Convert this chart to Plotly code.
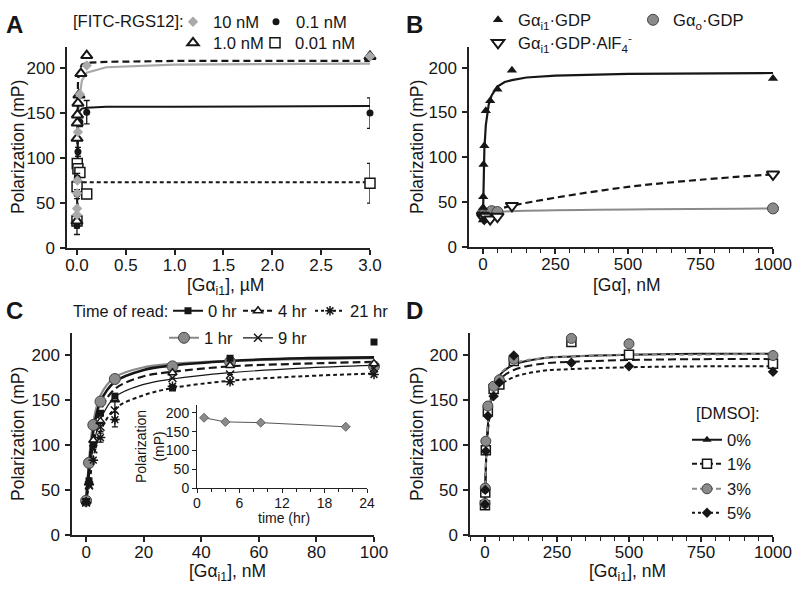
import plotly.graph_objects as go

W, H = 800, 591
FONT = "Liberation Sans, Arial, sans-serif"
INK = "#161616"

# ---------------- Panel A : [Gai1] in uM ----------------
a10_x = [0, 0.001, 0.002, 0.005, 0.01, 0.03, 0.1, 3.0]
a10_y = [37, 44, 61, 75, 129, 171, 203, 213]
a1_x = [0, 0.001, 0.003, 0.005, 0.01, 0.02, 0.04, 0.1, 3.0]
a1_y = [30, 122, 139, 148, 161, 170, 194, 214, 213]
a01_x = [0, 0.001, 0.003, 0.01, 0.03, 0.1, 3.0]
a01_y = [25, 60, 78, 107, 140, 151, 150]
a01_err = [10, 5, 5, 5, 5, 13, 17]
a001_x = [0, 0.001, 0.003, 0.01, 0.03, 0.1, 3.0]
a001_y = [30, 68, 94, 88, 84, 60, 72]
a001_err = [8, 5, 5, 5, 5, 5, 22]

afit_x = [0, 0.002, 0.005, 0.01, 0.02, 0.05, 0.1, 0.3, 1.0, 3.0]
afit_10 = [35, 70, 105, 135, 162, 186, 195, 201, 204, 205]
afit_1 = [30, 110, 160, 183, 196, 204, 206, 207, 208, 208]
afit_01 = [25, 100, 130, 145, 151, 155, 156, 157, 157, 158]
afit_001 = [30, 55, 66, 70, 72, 73, 73, 73, 73, 73]

# ---------------- Panel B : [Ga] in nM ----------------
bi_x = [0, 0.5, 1, 2, 5, 10, 25, 50, 100, 1000]
bi_y = [30, 44, 56, 92, 113, 152, 163, 176, 197, 188]
balf_x = [0, 1, 5, 10, 25, 50, 100, 1000]
balf_y = [35, 33, 32, 34, 31, 34, 46, 81]
bo_x = [0, 1, 5, 10, 30, 50, 1000]
bo_y = [38, 36, 37, 35, 40, 39, 43]

bfit_x = [0, 2, 5, 10, 15, 20, 30, 50, 75, 100, 150, 250, 500, 1000]
bfit_i = [30, 74, 109, 136, 151, 159, 169, 179, 184, 186, 189, 191, 193, 194]
bfit2_x = [0, 50, 100, 250, 500, 750, 1000]
bfit_alf = [37, 42, 46, 55, 67, 75, 81]
bfit3_x = [0, 100, 1000]
bfit_o = [38, 40, 43]

# ---------------- Panel C : time of read ----------------
c_x = [0, 1, 2.5, 5, 10, 30, 50, 100]
c_0hr = [37, 60, 100, 135, 154, 163, 196, 214]
c_1hr = [38, 80, 122, 148, 173, 187, 192, 187]
c_4hr = [37, 58, 105, 126, 150, 180, 188, 190]
c_9hr = [36, 55, 95, 120, 138, 174, 178, 185]
c_9hr_err = [0, 0, 0, 5, 11, 0, 0, 0]
c_21hr = [36, 56, 83, 108, 128, 165, 170, 178]
c_21hr_err = [0, 0, 0, 5, 8, 0, 0, 0]

cfit_x = [0, 1, 2.5, 5, 10, 20, 30, 50, 75, 100]
cfit_0hr = [37, 75, 115, 148, 170, 183, 188, 193, 196, 197]
cfit_1hr = [37, 82, 125, 155, 175, 186, 190, 193, 195, 196]
cfit_4hr = [37, 68, 105, 138, 162, 176, 181, 187, 190, 192]
cfit_9hr = [37, 63, 98, 128, 153, 167, 173, 180, 185, 188]
cfit_21hr = [37, 55, 85, 115, 140, 155, 163, 171, 176, 179]

inset_t = [1, 4, 9, 21]
inset_pol = [187, 176, 174, 163]
inset_err = [0, 6, 0, 0]

# ---------------- Panel D : DMSO ----------------
d_x = [0, 1, 3, 10, 30, 50, 100, 300, 500, 1000]
d_0 = [34, 50, 95, 135, 163, 170, 197, 215, 201, 198]
d_1 = [33, 47, 94, 137, 162, 167, 193, 214, 200, 190]
d_3 = [35, 52, 104, 143, 165, 172, 195, 218, 212, 199]
d_5 = [34, 50, 93, 132, 154, 169, 199, 191, 187, 181]

dfit_x = [0, 2, 5, 10, 20, 30, 50, 100, 200, 300, 500, 750, 1000]
dfit_0 = [33, 64, 94, 122, 150, 164, 177, 189, 196, 198, 200, 201, 201]
dfit_1 = [33, 63, 92, 119, 146, 159, 172, 183, 190, 192, 194, 195, 195]
dfit_3 = [35, 67, 97, 125, 152, 165, 178, 190, 196, 198, 200, 200, 201]
dfit_5 = [33, 61, 88, 114, 140, 152, 165, 175, 182, 184, 186, 187, 187]

y_ticks = [0, 50, 100, 150, 200]


def PX(x):
    return x / W


def PY(y):
    return 1 - y / H


fig = go.Figure()
GRAY_L = "#a9a9a9"
GRAY_M = "#8a8a8a"


def line(x, y, ax, color=INK, width=2, dash="solid", shape="linear"):
    fig.add_trace(go.Scatter(x=x, y=y, mode="lines", xaxis="x" + ax, yaxis="y" + ax,
                             line=dict(color=color, width=width, dash=dash, shape=shape,
                                       smoothing=1.0), showlegend=False, hoverinfo="skip"))


def pts(x, y, ax, marker, name=None, legend=None, err=None):
    fig.add_trace(go.Scatter(
        x=x, y=y, mode="markers", xaxis="x" + ax, yaxis="y" + ax, marker=marker,
        cliponaxis=False, name=name, legend=legend, showlegend=legend is not None,
        error_y=(dict(type="data", array=err, color=INK, thickness=1.3, width=3)
                 if err is not None else None)))


def legend_only(ax, name, legend, marker, ln):
    fig.add_trace(go.Scatter(x=[None], y=[None], mode="lines+markers", xaxis="x" + ax,
                             yaxis="y" + ax, marker=marker, line=ln, name=name,
                             legend=legend, showlegend=True))


# ---- A
line(afit_x, afit_10, "", GRAY_L, 2.2)
line(afit_x, afit_1, "", INK, 2.2, "7px,4px")
line(afit_x, afit_01, "", INK, 2)
line(afit_x, afit_001, "", INK, 2, "4px,3px")
m_a10 = dict(symbol="diamond", size=8, color=GRAY_L, line=dict(width=0))
m_a1 = dict(symbol="triangle-up", size=10, color="white", line=dict(color=INK, width=2))
m_a01 = dict(symbol="circle", size=7, color=INK, line=dict(width=0))
m_a001 = dict(symbol="square", size=10, color="white", line=dict(color=INK, width=1.5))
pts(a001_x, a001_y, "", m_a001, "0.01 nM", "legend4", a001_err)
pts(a01_x, a01_y, "", m_a01, "0.1 nM", "legend2", a01_err)
pts(a1_x, a1_y, "", m_a1, "1.0 nM", "legend3")
pts(a10_x, a10_y, "", m_a10, "10 nM", "legend")

# ---- B
line(bfit_x, bfit_i, "2", INK, 2.2)
line(bfit2_x, bfit_alf, "2", INK, 2.2, "7px,4px", "spline")
line(bfit3_x, bfit_o, "2", GRAY_M, 2, "solid", "spline")
m_bi = dict(symbol="triangle-up", size=9, color=INK, line=dict(width=0))
m_bo = dict(symbol="circle", size=11, color=GRAY_M, line=dict(color="#444", width=1))
m_balf = dict(symbol="triangle-down", size=11, color="white", line=dict(color=INK, width=2))
pts(bo_x, bo_y, "2", m_bo, "G\u03b1<sub>o</sub>\u00b7GDP", "legend6")
pts(balf_x, balf_y, "2", m_balf, "G\u03b1<sub>i1</sub>\u00b7GDP\u00b7AlF<sub>4</sub><sup>-</sup>", "legend7")
pts(bi_x, bi_y, "2", m_bi, "G\u03b1<sub>i1</sub>\u00b7GDP", "legend5")

# ---- C
line(cfit_x, cfit_21hr, "3", INK, 2, "4px,3px", "spline")
line(cfit_x, cfit_9hr, "3", INK, 1.2, "solid", "spline")
line(cfit_x, cfit_4hr, "3", INK, 2.2, "8px,4px", "spline")
line(cfit_x, cfit_1hr, "3", GRAY_M, 2.2, "solid", "spline")
line(cfit_x, cfit_0hr, "3", INK, 2.6, "solid", "spline")
m_c0 = dict(symbol="square", size=7, color=INK, line=dict(width=0))
m_c1 = dict(symbol="circle", size=11, color=GRAY_M, line=dict(color="#444", width=1))
m_c4 = dict(symbol="triangle-up", size=8, color="white", line=dict(color=INK, width=1.5))
m_c9 = dict(symbol="x-thin-open", size=8, color=INK, line=dict(color=INK, width=1.5))
m_c21 = dict(symbol="asterisk-open", size=8, color=INK, line=dict(color=INK, width=1.5))
pts(c_x, c_1hr, "3", m_c1)
pts(c_x, c_4hr, "3", m_c4)
pts(c_x, c_9hr, "3", m_c9, err=c_9hr_err)
pts(c_x, c_21hr, "3", m_c21, err=c_21hr_err)
pts(c_x, c_0hr, "3", m_c0)
legend_only("3", "0 hr", "legend8", m_c0, dict(color=INK, width=2))
legend_only("3", "4 hr", "legend9", m_c4, dict(color=INK, width=2, dash="5px,3px"))
legend_only("3", "21 hr", "legend10", m_c21, dict(color=INK, width=2, dash="3px,3px"))
legend_only("3", "1 hr", "legend11", m_c1, dict(color=GRAY_M, width=2))
legend_only("3", "9 hr", "legend12", m_c9, dict(color=INK, width=1.2))

# inset
fig.add_trace(go.Scatter(x=inset_t, y=inset_pol, mode="lines+markers", xaxis="x5", yaxis="y5",
                         line=dict(color="#555", width=1),
                         marker=dict(symbol="diamond", size=7, color=GRAY_M,
                                     line=dict(color="#555", width=0.8)),
                         error_y=dict(type="data", array=inset_err, color="#444",
                                      thickness=1, width=2),
                         cliponaxis=False, showlegend=False))

# ---- D
line(dfit_x, dfit_5, "4", INK, 2, "4px,3px", "spline")
line(dfit_x, dfit_1, "4", INK, 2, "8px,4px", "spline")
line(dfit_x, dfit_0, "4", INK, 2, "solid", "spline")
line(dfit_x, dfit_3, "4", GRAY_M, 2, "5px,4px", "spline")
m_d0 = dict(symbol="triangle-up", size=8, color=INK, line=dict(width=0))
m_d1 = dict(symbol="square", size=9, color="white", line=dict(color=INK, width=1.5))
m_d3 = dict(symbol="circle", size=10, color=GRAY_M, line=dict(color="#444", width=1))
m_d5 = dict(symbol="diamond", size=8, color=INK, line=dict(width=0))
pts(d_x, d_0, "4", m_d0)
pts(d_x, d_1, "4", m_d1)
pts(d_x, d_3, "4", m_d3)
pts(d_x, d_5, "4", m_d5)
legend_only("4", "0%", "legend13", m_d0, dict(color=INK, width=2))
legend_only("4", "1%", "legend14", m_d1, dict(color=INK, width=2, dash="5px,3px"))
legend_only("4", "3%", "legend15", m_d3, dict(color=GRAY_M, width=2, dash="5px,3px"))
legend_only("4", "5%", "legend16", m_d5, dict(color=INK, width=2, dash="3px,3px"))

# ---------------- layout ----------------
def axis(dom, rng, **kw):
    d = dict(domain=dom, range=rng, showline=True, linecolor="#222", linewidth=1.5,
             ticks="outside", ticklen=5, tickwidth=1.5, tickcolor="#222",
             showgrid=False, zeroline=False, fixedrange=True, automargin=False,
             tickfont=dict(size=17, family=FONT, color=INK))
    d.update(kw)
    return d


minor50 = dict(ticks="outside", ticklen=4, tickwidth=1.2, tickcolor="#222", dtick=50,
               showgrid=False)
XSO = -4
YSO = 2

layout = dict(
    width=W, height=H, margin=dict(l=0, r=0, t=0, b=0, pad=0, autoexpand=False),
    paper_bgcolor="white", plot_bgcolor="rgba(0,0,0,0)",
    font=dict(family=FONT, color=INK, size=16),
    xaxis=axis([PX(67), PX(370)], [-0.102, 3.0], anchor="y", ticklabelstandoff=XSO,
               tickvals=[0, 0.5, 1.0, 1.5, 2.0, 2.5, 3.0], tickformat=".1f"),
    yaxis=axis([PY(248), PY(47)], [0, 223.5], anchor="x", tickvals=y_ticks,
               ticklabelstandoff=YSO),
    xaxis2=axis([PX(469), PX(773)], [-48, 1000], anchor="y2", ticklabelstandoff=XSO,
                tickvals=[0, 250, 500, 750, 1000], minor=minor50),
    yaxis2=axis([PY(247), PY(47)], [0, 223], anchor="x2", tickvals=y_ticks,
                ticklabelstandoff=YSO),
    xaxis3=axis([PX(72), PX(374)], [-4.9, 100], anchor="y3", ticklabelstandoff=XSO,
                tickvals=[0, 20, 40, 60, 80, 100]),
    yaxis3=axis([PY(535), PY(333)], [0, 224], anchor="x3", tickvals=y_ticks,
                ticklabelstandoff=YSO),
    xaxis4=axis([PX(470), PX(773)], [-52, 1000], anchor="y4", ticklabelstandoff=XSO,
                tickvals=[0, 250, 500, 750, 1000], minor=minor50),
    yaxis4=axis([PY(535), PY(333)], [0, 224], anchor="x4", tickvals=y_ticks,
                ticklabelstandoff=YSO),
    xaxis5=axis([PX(197), PX(367)], [0, 24], anchor="y5", tickvals=[0, 6, 12, 18, 24],
                ticklen=4, tickwidth=1, linewidth=1, ticklabelstandoff=-2,
                tickfont=dict(size=14, family=FONT, color=INK),
                minor=dict(ticks="outside", ticklen=2.5, tickwidth=1, tickcolor="#222", dtick=2)),
    yaxis5=axis([PY(488), PY(405)], [0, 221], anchor="x5", tickvals=y_ticks,
                ticklen=4, tickwidth=1, linewidth=1,
                tickfont=dict(size=14, family=FONT, color=INK)),
)


def leg(left_x, y, itemwidth=30):
    return dict(x=PX(left_x), y=PY(y), xanchor="left", yanchor="middle",
                orientation="h", bgcolor="rgba(0,0,0,0)", borderwidth=0,
                itemwidth=itemwidth, font=dict(size=16.6, family=FONT, color=INK))


# legend box left edges (px) and row centres (px)
legend_pos = {
    "legend": (173, 22), "legend2": (256, 22), "legend3": (173, 43), "legend4": (255, 43),
    "legend5": (478, 20), "legend6": (633, 20), "legend7": (478, 43),
    "legend8": (168, 311), "legend9": (238, 311), "legend10": (310, 311),
    "legend11": (164, 338), "legend12": (238, 338),
    "legend13": (687, 440), "legend14": (687, 464), "legend15": (687, 489), "legend16": (687, 513),
}
for k, (lx, ly) in legend_pos.items():
    layout[k] = leg(lx, ly)

ann = []


def text(x, y, s, size=16.6, xanchor="left", angle=0, bold=False, yanchor="middle"):
    ann.append(dict(x=PX(x), y=PY(y), xref="paper", yref="paper", text=("<b>%s</b>" % s) if bold else s,
                    showarrow=False, xanchor=xanchor, yanchor=yanchor, textangle=angle,
                    font=dict(size=size, family=FONT, color=INK)))


text(4, 24, "A", 24, bold=True)
text(404, 24, "B", 24, bold=True)
text(4, 310, "C", 24, bold=True)
text(404, 310, "D", 24, bold=True)
text(71, 22, "[FITC-RGS12]:")
text(71, 311, "Time of read:", 16.3)
text(694, 413, "[DMSO]:")
text(18, 147, "Polarization (mP)", 17.5, "center", -90)
text(417, 147, "Polarization (mP)", 17.5, "center", -90)
text(18, 434, "Polarization (mP)", 17.5, "center", -90)
text(417, 434, "Polarization (mP)", 17.5, "center", -90)
text(225, 287, "[G\u03b1<sub>i1</sub>], \u00b5M", 17.5, "center")
text(627, 285, "[G\u03b1], nM", 17.5, "center")
text(227, 572, "[G\u03b1<sub>i1</sub>], nM", 17.5, "center")
text(627, 572, "[G\u03b1<sub>i1</sub>], nM", 17.5, "center")
text(284, 518, "time (hr)", 14, "center")
text(150, 447, "Polarization<br>(mP)", 14, "center", -90)
layout["annotations"] = ann

fig.update_layout(**layout)

POST = "document.body.style.margin='0';document.body.style.overflow='hidden';"
fig.write_html("out.html", config={"displayModeBar": False}, post_script=POST)
